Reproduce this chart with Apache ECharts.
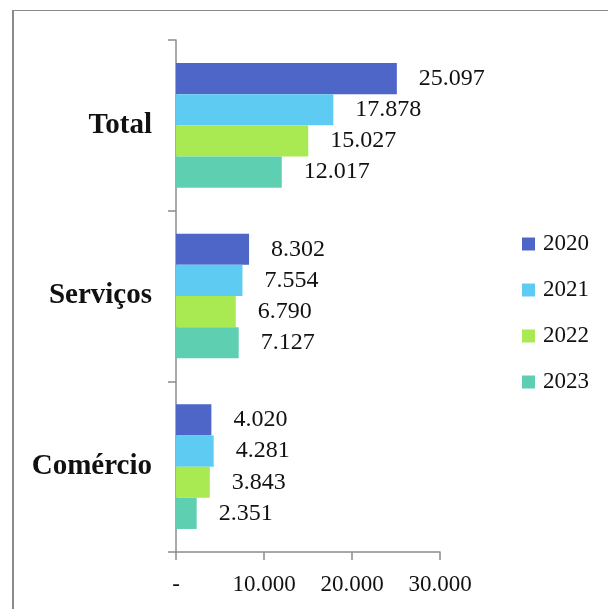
<!DOCTYPE html>
<html>
<head>
<meta charset="utf-8">
<script src="https://cdn.jsdelivr.net/npm/echarts@6/dist/echarts.min.js"></script>
<style>
html,body{margin:0;padding:0;background:#fff;}
#c{width:608px;height:609px;}
</style>
</head>
<body>
<div id="c"></div>
<script>
const categories = ['Total', 'Serviços', 'Comércio'];
const years = ['2020', '2021', '2022', '2023'];
const v2020 = [25097, 8302, 4020];
const v2021 = [17878, 7554, 4281];
const v2022 = [15027, 6790, 3843];
const v2023 = [12017, 7127, 2351];
const xTicks = [0, 10000, 20000, 30000];
const colors = ['#4F66C9', '#5ECCF2', '#A9E952', '#5ECFB1'];

const seriesValues = [v2020, v2021, v2022, v2023];
const FONT = "'Liberation Serif', serif";

function fmt(n) {
  if (n === 0) return '-';
  return String(Math.round(n)).replace(/\B(?=(\d{3})+(?!\d))/g, '.');
}

const chart = echarts.init(document.getElementById('c'), null, {renderer: 'canvas'});
const axisColor = '#8c8c8c';

chart.setOption({
  animation: false,
  backgroundColor: '#fff',
  textStyle: {fontFamily: FONT},
  graphic: [
    {
      type: 'line',
      shape: {x1: 13, y1: 10, x2: 13, y2: 700},
      style: {stroke: '#8a8a8a', lineWidth: 2},
      silent: true
    },
    {
      type: 'line',
      shape: {x1: 12, y1: 10.5, x2: 700, y2: 10.5},
      style: {stroke: '#8a8a8a', lineWidth: 1.2},
      silent: true
    }
  ],
  grid: {left: 176, right: 168, top: 40, bottom: 57, containLabel: false},
  legend: {
    orient: 'vertical',
    left: 517,
    top: 227,
    itemWidth: 13,
    itemHeight: 13,
    itemGap: 22,
    icon: 'rect',
    data: years,
    textStyle: {fontFamily: FONT, fontSize: 23, color: '#111', lineHeight: 24, padding: [0, 0, 0, 3]}
  },
  xAxis: {
    type: 'value',
    min: 0,
    max: 30000,
    interval: 10000,
    splitLine: {show: false},
    axisLine: {show: true, lineStyle: {color: axisColor, width: 1.5}},
    axisTick: {show: true, length: 8, lineStyle: {color: axisColor, width: 1.5}},
    axisLabel: {
      margin: 21,
      fontFamily: FONT,
      fontSize: 23,
      color: '#111',
      customValues: xTicks,
      formatter: v => fmt(v)
    }
  },
  yAxis: {
    type: 'category',
    data: categories,
    inverse: true,
    axisLine: {show: true, lineStyle: {color: axisColor, width: 1.5}},
    axisTick: {show: true, length: 8, alignWithLabel: false, lineStyle: {color: axisColor, width: 1.5}},
    axisLabel: {
      margin: 24,
      fontFamily: FONT,
      fontSize: 29,
      fontWeight: 'bold',
      color: '#111'
    }
  },
  series: years.map((y, i) => ({
    name: y,
    type: 'bar',
    data: seriesValues[i],
    barGap: '0%',
    barCategoryGap: '27%',
    itemStyle: {color: colors[i]},
    label: {
      show: true,
      position: 'right',
      distance: 22,
      fontFamily: FONT,
      fontSize: 24,
      color: '#111',
      formatter: p => fmt(p.value)
    }
  }))
});
</script>
</body>
</html>
